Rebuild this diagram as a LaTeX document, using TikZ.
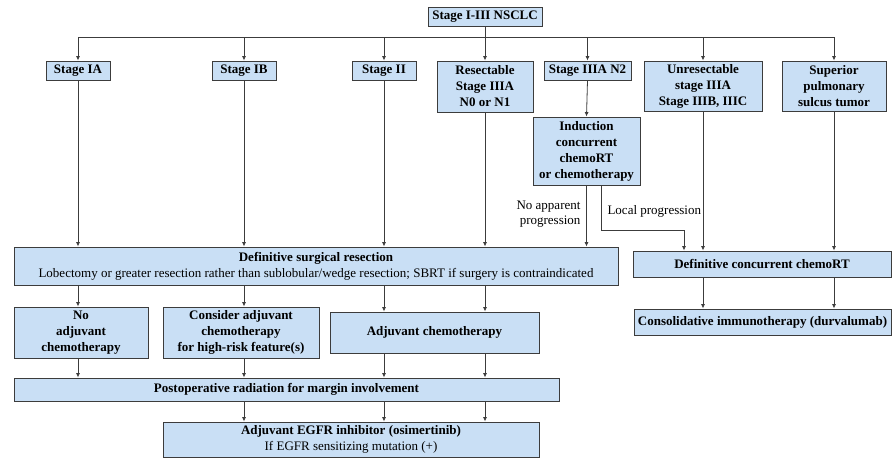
\documentclass[tikz,border=0pt]{standalone}
\usepackage{fontspec}
\setmainfont{Liberation Serif}
\usetikzlibrary{arrows.meta}
\definecolor{boxfill}{RGB}{201,223,245}
\definecolor{boxline}{RGB}{60,60,60}
\tikzset{
  box/.style={draw=boxline, fill=boxfill, line width=0.9pt, align=center, inner sep=0pt,
    font=\fontsize{13}{16}\selectfont\bfseries},
  plain/.style={font=\fontsize{13}{15}\selectfont},
  arr/.style={draw=boxline, line width=0.8pt, -{Latex[length=4.5pt,width=4pt]}},
  lin/.style={draw=boxline, line width=0.8pt}
}

\begin{document}
\begin{tikzpicture}[x=1pt,y=-1pt]
\useasboundingbox (0,0) rectangle (893,458);

% stage boxes
\node[box, minimum width=114pt, minimum height=19pt] (top) at (485,16.5) {Stage I-III NSCLC};
\node[box, minimum width=64pt, minimum height=19pt] (ia) at (78,70.5) {Stage IA};
\node[box, minimum width=64pt, minimum height=19pt] (ib) at (244,70.5) {Stage IB};
\node[box, minimum width=64pt, minimum height=19pt] (ii) at (384,70.5) {Stage II};
\node[box, minimum width=96pt, minimum height=51pt] (res) at (485,86.5) {Resectable\\Stage IIIA\\N0 or N1};
\node[box, minimum width=87pt, minimum height=19pt] (n2) at (587.5,70.5) {Stage IIIA N2};
\node[box, minimum width=118pt, minimum height=50pt] (unres) at (703,86) {Unresectable\\stage IIIA\\Stage IIIB, IIIC};
\node[box, minimum width=104pt, minimum height=50pt] (sup) at (834,86) {Superior\\pulmonary\\sulcus tumor};
\node[box, minimum width=107pt, minimum height=68pt] (ind) at (586.5,151) {Induction\\concurrent\\chemoRT\\or chemotherapy};

% treatment boxes
\node[box, minimum width=604pt, minimum height=38pt] (surg) at (316,266) {Definitive surgical resection\\\mdseries Lobectomy or greater resection rather than sublobular/wedge resection; SBRT if surgery is contraindicated};
\node[box, minimum width=258pt, minimum height=26pt] (crt) at (762,264) {Definitive concurrent chemoRT};
\node[box, minimum width=257pt, minimum height=26pt] (cons) at (762.5,322) {Consolidative immunotherapy (durvalumab)};
\node[box, minimum width=134pt, minimum height=51pt] (noadj) at (81,332.5) {No\\adjuvant\\chemotherapy};
\node[box, minimum width=156pt, minimum height=51pt] (cadj) at (241,332.5) {Consider adjuvant\\chemotherapy\\for high-risk feature(s)};
\node[box, minimum width=209pt, minimum height=41pt] (adj) at (434.5,332.5) {Adjuvant chemotherapy};
\node[box, minimum width=545pt, minimum height=23pt] (post) at (286.5,389.5) {Postoperative radiation for margin involvement};
\node[box, minimum width=376pt, minimum height=35pt] (egfr) at (351,439.5) {Adjuvant EGFR inhibitor (osimertinib)\\\mdseries If EGFR sensitizing mutation (+)};

% branch labels
\node[plain, align=right, anchor=east] (noprog) at (584,214.5) {No apparent\\progression};
\node[plain, anchor=west] (locprog) at (604,211) {Local progression};

% top bus
\coordinate (bus) at (485,37);
\draw[lin] (top.south) -- (bus);
\draw[lin] (bus -| ia.north) -- (bus -| sup.north);
\foreach \n in {ia,ib,ii,res,n2,unres,sup}
  \draw[arr] (bus -| \n.north) -- (\n.north);

% into surgery
\foreach \n in {ia,ib,ii,res}
  \draw[arr] (\n.south) -- (\n.south |- surg.north);
\draw[arr] (n2.south) -- (ind.north);
\draw[arr] (ind.south) -- (ind.south |- surg.north);
\coordinate (lp) at ([xshift=14.5pt]ind.south);
\coordinate (lpin) at ([xshift=-78pt]crt.north);
\draw[arr] (lp) -- (lp |- 0,230) -| (lpin);
\foreach \n in {unres,sup}
  \draw[arr] (\n.south) -- (\n.south |- crt.north);
\foreach \n in {unres,sup}
  \draw[arr] (crt.south -| \n.south) -- (cons.north -| \n.south);

% after surgery
\draw[arr] (surg.south -| ia.south) -- (noadj.north -| ia.south);
\draw[arr] (surg.south -| ib.south) -- (cadj.north -| ib.south);
\foreach \n in {ii,res}
  \draw[arr] (surg.south -| \n.south) -- (adj.north -| \n.south);
\draw[arr] (noadj.south -| ia.south) -- (post.north -| ia.south);
\draw[arr] (cadj.south -| ib.south) -- (post.north -| ib.south);
\foreach \n in {ii,res}
  \draw[arr] (adj.south -| \n.south) -- (post.north -| \n.south);
\foreach \n in {ib,ii,res}
  \draw[arr] (post.south -| \n.south) -- (egfr.north -| \n.south);

\end{tikzpicture}
\end{document}
